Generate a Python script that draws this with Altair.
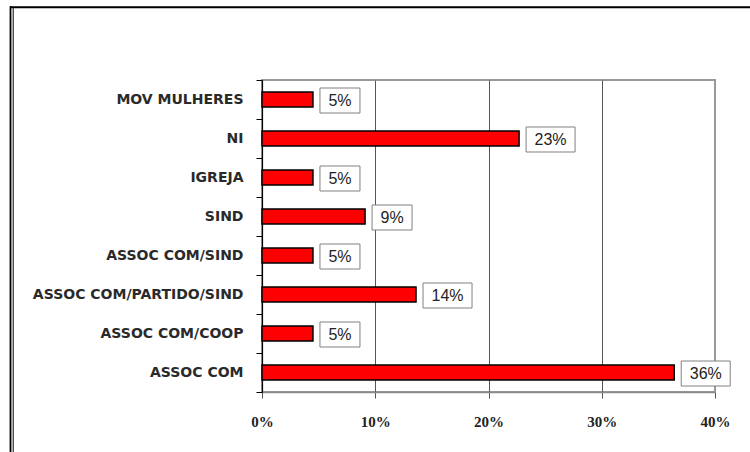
import altair as alt
import pandas as pd

categories = ["MOV MULHERES", "NI", "IGREJA", "SIND", "ASSOC COM/SIND",
              "ASSOC COM/PARTIDO/SIND", "ASSOC COM/COOP", "ASSOC COM"]
values = [0.045, 0.227, 0.045, 0.091, 0.045, 0.136, 0.045, 0.364]
labels = ["5%", "23%", "5%", "9%", "5%", "14%", "5%", "36%"]
x_ticks = [0, 0.1, 0.2, 0.3, 0.4]

df = pd.DataFrame({"cat": categories, "value": values, "label": labels})

W, H = 453, 312

y_enc = alt.Y("cat:N", sort=categories, title=None,
              scale=alt.Scale(paddingInner=0, paddingOuter=0),
              axis=alt.Axis(tickBand="extent", tickSize=6, tickColor="#000000",
                            domainColor="#000000", domainWidth=1.2,
                            labelFont="DejaVu Sans", labelFontWeight="bold",
                            labelFontSize=14, labelColor="#2a2a2a",
                            labelPadding=13, labelLimit=400, grid=False))

x_scale = alt.Scale(domain=[0, 0.4], nice=False)
x_axis = alt.Axis(values=x_ticks, format=".0%", tickSize=6, tickColor="#555555",
                  domainColor="#8a8a8a", domainWidth=1.5,
                  labelFont="Liberation Serif", labelFontWeight="bold",
                  labelFontSize=15, labelColor="#222222", labelPadding=16,
                  labelFlush=False,
                  grid=True,
                  gridColor=alt.condition("datum.value >= 0.39", alt.value("#999999"), alt.value("#555555")),
                  gridWidth=1)

base = alt.Chart(df)

bars = base.mark_bar(color="#ff0000", stroke="#000000", strokeWidth=1.5, size=15).encode(
    x=alt.X("value:Q", scale=x_scale, axis=x_axis, title=None),
    y=y_enc,
)

box2 = base.transform_filter("length(datum.label) == 2").mark_bar(
    color="#ffffff", stroke="#808080", strokeWidth=1, size=25, xOffset=7, x2Offset=47, yOffset=1
).encode(x=alt.X("value:Q", title=None), x2="value:Q", y=alt.Y("cat:N", sort=categories, title=None))

box3 = base.transform_filter("length(datum.label) == 3").mark_bar(
    color="#ffffff", stroke="#808080", strokeWidth=1, size=25, xOffset=7, x2Offset=56, yOffset=1
).encode(x=alt.X("value:Q", title=None), x2="value:Q", y=alt.Y("cat:N", sort=categories, title=None))

text = base.mark_text(align="left", baseline="middle", dx=15.5, dy=1,
                      font="Liberation Sans", fontSize=16, color="#222222").encode(
    x=alt.X("value:Q", title=None), y=alt.Y("cat:N", sort=categories, title=None), text="label:N")

one = alt.Chart(pd.DataFrame({"a": [0]}))
top_line = one.mark_rule(color="#000000", strokeWidth=2).encode(
    x=alt.value(-252), x2=alt.value(490), y=alt.value(-72.8))
left_outer = one.mark_rule(color="#000000", strokeWidth=1.8).encode(
    x=alt.value(-251.5), y=alt.value(-73.8), y2=alt.value(H + 60))
left_inner = one.mark_rule(color="#000000", strokeWidth=1).encode(
    x=alt.value(-248.8), y=alt.value(-71.8), y2=alt.value(H + 60))

chart = alt.layer(bars, box2, box3, text, top_line, left_outer, left_inner).properties(
    width=W, height=H,
    autosize=alt.AutoSizeParams(type="none"),
    padding={"left": 262, "top": 80, "right": 35, "bottom": 60},
    background="#ffffff",
).configure_view(stroke="#999999", strokeWidth=2)

chart.save("out.html", embed_options={"renderer": "svg", "actions": False})
